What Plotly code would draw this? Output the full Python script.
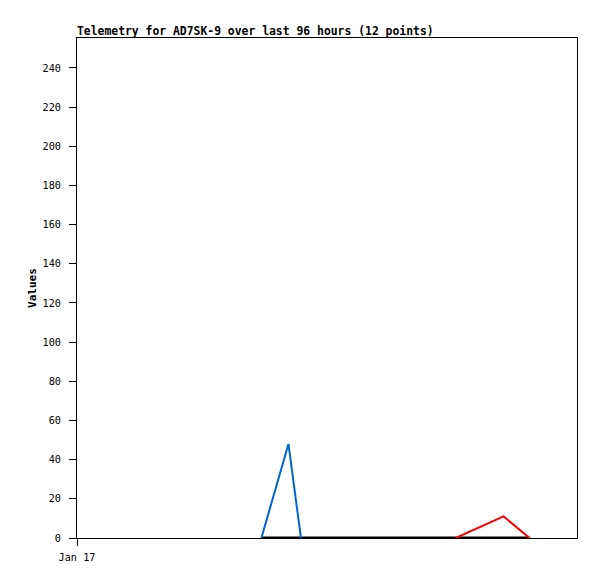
import plotly.graph_objects as go

# Data
blue_times = ["2024-01-18 11:24", "2024-01-18 16:36", "2024-01-18 19:00"]
blue_values = [0, 48, 0]
red_times = ["2024-01-20 00:42", "2024-01-20 09:54", "2024-01-20 14:54"]
red_values = [0, 11, 0]
black_times = ["2024-01-18 11:24", "2024-01-18 19:00", "2024-01-19 07:00",
               "2024-01-19 17:00", "2024-01-20 00:42", "2024-01-20 14:54"]
black_values = [0, 0, 0, 0, 0, 0]
y_ticks = [0, 20, 40, 60, 80, 100, 120, 140, 160, 180, 200, 220, 240]
x_tick_vals = ["2024-01-17 00:00"]
x_tick_text = ["Jan 17"]
x_range = ["2024-01-17 00:00", "2024-01-21 00:00"]
y_range = [0, 255.3]

font_family = "DejaVu Sans Mono"

fig = go.Figure()
fig.add_trace(go.Scatter(x=black_times, y=black_values, mode="lines",
                         line=dict(color="#000000", width=3), showlegend=False))
fig.add_trace(go.Scatter(x=blue_times, y=blue_values, mode="lines",
                         line=dict(color="#0066cc", width=2), showlegend=False))
fig.add_trace(go.Scatter(x=red_times, y=red_values, mode="lines",
                         line=dict(color="#ff0000", width=2), showlegend=False))

# page body has an 8px margin: figure is 589x571 placed at (8,8)
W, H = 589, 571
fig.update_layout(
    width=W, height=H,
    margin=dict(l=69, r=20, t=30, b=41),
    paper_bgcolor="white", plot_bgcolor="white",
    font=dict(family=font_family, size=10, color="black"),
    title=dict(text="<b>Telemetry for AD7SK-9 over last 96 hours (12 points)</b>",
               x=69/W, xanchor="left", y=1 - 23.5/H, yanchor="middle",
               font=dict(family=font_family, size=11.4, color="black")),
    xaxis=dict(range=x_range, type="date", tickvals=x_tick_vals, ticktext=x_tick_text,
               showgrid=False, zeroline=False, showline=True, linecolor="black",
               linewidth=1, mirror=True, ticks="outside", ticklen=7,
               tickcolor="black", tickfont=dict(size=10.2), ticklabelstandoff=3),
    yaxis=dict(range=y_range, tickvals=y_ticks, showgrid=False, zeroline=False,
               showline=True, linecolor="black", linewidth=1, mirror=True,
               ticks="outside", ticklen=7, tickcolor="black",
               tickfont=dict(size=10.2), ticklabelstandoff=6,
               title=dict(text="<b>Values</b>", standoff=3,
                          font=dict(family=font_family, size=11))),
)

fig.write_html("out.html")
